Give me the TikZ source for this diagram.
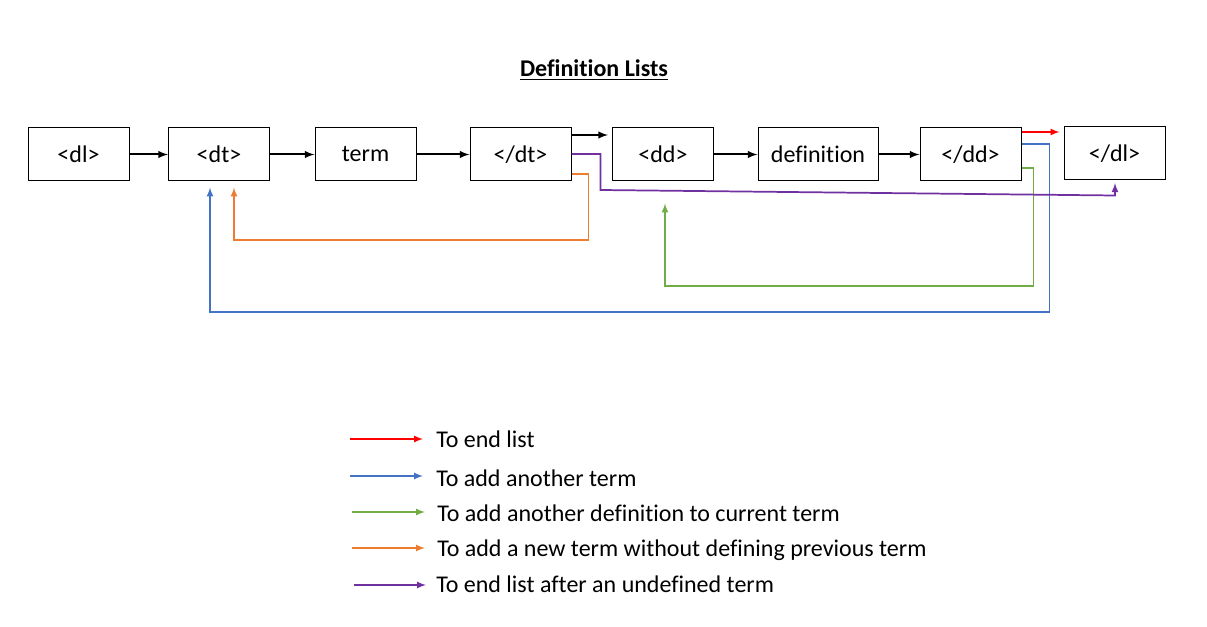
\documentclass[tikz,border=0pt]{standalone}
\usepackage{fontspec}
\setmainfont[Ligatures=NoCommon]{Carlito}
\usetikzlibrary{arrows}

\tikzset{
  tag/.style={draw, line width=0.75pt, minimum width=75.75pt, minimum height=39.75pt, inner sep=0pt, font=\fontsize{18}{21}\selectfont},
  flow/.style={-latex, line width=1.5pt},
  endlist/.style={-latex, line width=1.3pt, draw={rgb,255:red,255;green,0;blue,0}},
  addterm/.style={-latex, line width=1.3pt, draw={rgb,255:red,68;green,114;blue,196}},
  adddef/.style={-latex, line width=1.3pt, draw={rgb,255:red,112;green,173;blue,71}},
  newterm/.style={-latex, line width=1.3pt, draw={rgb,255:red,237;green,125;blue,49}},
  undef/.style={-latex, line width=1.3pt, draw={rgb,255:red,112;green,48;blue,160}},
  legend/.style={anchor=west, inner sep=0pt, font=\fontsize{18}{21}\selectfont}
}

\begin{document}
\begin{tikzpicture}[x=0.75pt,y=-0.75pt]
\useasboundingbox (0,0) rectangle (1207,627);

% title
\node (title) at (594,70) {\fontsize{18}{21}\selectfont\bfseries\underline{Definition Lists}};

% the tags
\node[tag] (dl) at (78.5,154.5) {<dl>};
\node[tag] (dt) at (219,154.5) {<dt>};
\node[tag] (term) at (365.5,154.5) {term};
\node[tag] (edt) at (520.5,154.5) {</dt>};
\node[tag] (dd) at (663,154.5) {<dd>};
\node[tag, minimum width=90pt] (def) at (818,154.5) {definition};
\node[tag] (edd) at (970.5,154.5) {</dd>};
\node[tag] (edl) at (1114.5,153.5) {</dl>};

% main flow
\draw[flow] (dl) -- (dt);
\draw[flow] (dt) -- (term);
\draw[flow] (term) -- (edt);
\draw[flow, shorten >=3pt] ([shift={(0,-19.5)}]edt.east) -- ([shift={(0,-19.5)}]dd.west);
\draw[flow] (dd) -- (def);
\draw[flow] (def) -- (edd);

% going back or ending
\draw[endlist, shorten >=3pt] ([shift={(0,-22.5)}]edd.east) -- ([shift={(0,-21.5)}]edl.west);
\draw[addterm, shorten >=4.5pt] ([shift={(0,-10.5)}]edd.east) -- ++(28,0) -- ++(0,168) -| ([shift={(-9,0)}]dt.south);
\draw[adddef, shorten >=16.5pt] ([shift={(0,13.5)}]edd.east) -- ++(12,0) -- ++(0,118) -| ([shift={(2,0)}]dd.south);
\draw[newterm, shorten >=4.5pt] ([shift={(0,19.5)}]edt.east) -- ++(17,0) -- ++(0,66) -| ([shift={(15,0)}]dt.south);
\draw[undef, shorten >=2pt] ([shift={(0,-0.5)}]edt.east) -- ++(29,0) -- ++(0,36) -- ([shift={(0.5,15)}]edl.south) -- ([shift={(0.5,0)}]edl.south);

% legend
\node[legend] (lgend) at (436,439) {To end list};
\node[legend] (lgterm) at (436,478) {To add another term};
\node[legend] (lgdef) at (437,513) {To add another definition to current term};
\node[legend] (lgnew) at (437,550) {To add a new term without defining previous term};
\node[legend] (lgundef) at (436,584) {To end list after an undefined term};
\draw[endlist] ([shift={(-86,0)}]lgend.west) -- ([shift={(-13,0)}]lgend.west);
\draw[addterm] ([shift={(-86,-2)}]lgterm.west) -- ([shift={(-13,-2)}]lgterm.west);
\draw[adddef] ([shift={(-85,-1)}]lgdef.west) -- ([shift={(-12,-1)}]lgdef.west);
\draw[newterm] ([shift={(-85,-2)}]lgnew.west) -- ([shift={(-12,-2)}]lgnew.west);
\draw[undef] ([shift={(-82,1)}]lgundef.west) -- ([shift={(-10,1)}]lgundef.west);
\end{tikzpicture}
\end{document}
